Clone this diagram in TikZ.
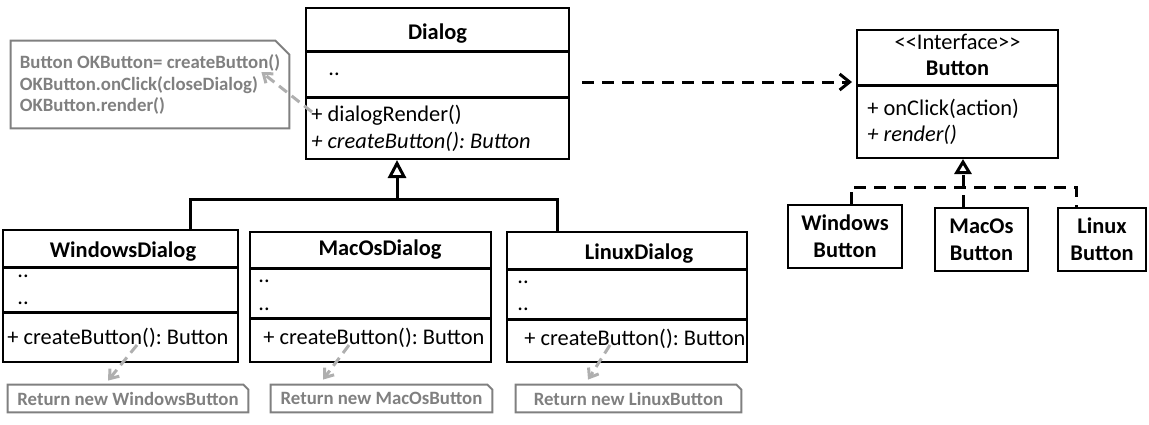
\documentclass[tikz,border=0pt]{standalone}
\usepackage{fontspec}
\setmainfont{Carlito}
\usetikzlibrary{arrows.meta, positioning}
\definecolor{notegray}{RGB}{128,128,128}
\definecolor{tipgray}{RGB}{175,175,175}
\frenchspacing

\begin{document}
\begin{tikzpicture}[x=0.5pt, y=-0.5pt,
    font=\fontsize{11.2pt}{13.5pt}\selectfont,
    umlbox/.style = {draw, line width=1pt, inner sep=0pt},
    divider/.style = {line width=1.5pt},
    txt/.style = {inner sep=0pt, anchor=base west},
    ttl/.style = {inner sep=0pt, anchor=base, font=\fontsize{11.2pt}{13.5pt}\selectfont\bfseries},
    notebox/.style = {draw=notegray, line width=1pt},
    notetxt/.style = {text=notegray, inner sep=0pt, font=\fontsize{9.4pt}{10.75pt}\selectfont\bfseries},
    gen/.style = {line width=1.5pt, -{Triangle[open, length=9pt, width=9pt]}},
    realize/.style = {line width=1.5pt, dash pattern=on 6pt off 4pt},
    dep/.style = {line width=1.5pt, dash pattern=on 6pt off 4pt, -{Straight Barb[length=5pt, width=8pt]}},
    hint/.style = {draw=tipgray, line width=1.5pt, dash pattern=on 5pt off 3pt, -{Straight Barb[length=4pt, width=6pt]}}]
    \useasboundingbox (0,0) rectangle (1149,424);

    % Dialog
    \node[umlbox, minimum width=131.5pt, minimum height=75.5pt] at (437.5,83.5) (dialog) {};
    \draw[divider] (dialog.west |- 0,51) -- (dialog.east |- 0,51);
    \draw[divider] (dialog.west |- 0,97) -- (dialog.east |- 0,97);
    \node[ttl] at (437.5,39) (dialogName) {Dialog};
    \node[txt] at (328,75) (dialogAttr) {..};
    \node[txt] at (311,121) (dialogRender) {+ dialogRender()};
    \node[txt] at (311,148) (dialogCreate) {\itshape + createButton(): Button};

    % note on dialogRender
    \node[notetxt, align=left, minimum width=139pt, minimum height=43.5pt] at (150,84.5) (okNote)
        {Button OKButton= createButton()\\OKButton.onClick(closeDialog)\\OKButton.render()};
    \draw[notebox] (okNote.south west) -- (okNote.north west) -- ([xshift=-7pt]okNote.north east)
        -- ([yshift=-7pt]okNote.north east) -- (okNote.south east) -- cycle;
    \draw[hint] ([xshift=3.5pt, yshift=-14.25pt]dialog.west) -- ([xshift=-14pt, yshift=6.25pt]okNote.east);

    % Button interface
    \node[umlbox, minimum width=100.5pt, minimum height=64pt] at (957.5,94) (button) {};
    \draw[divider] (button.west |- 0,85) -- (button.east |- 0,85);
    \node[inner sep=0pt, anchor=base] at (957.5,49) (buttonStereo) {<\kern0pt<Interface>\kern0pt>};
    \node[ttl] at (957.5,75) (buttonName) {Button};
    \node[txt] at (867,115) (buttonClick) {+ onClick(action)};
    \node[txt] at (867,141) (buttonRender) {\itshape + render()};

    \draw[dep] ([xshift=6pt, yshift=0.75pt]dialog.east) -- ([xshift=-2pt, yshift=6pt]button.west);

    % concrete buttons
    \node[umlbox, font=\fontsize{11.2pt}{13.5pt}\selectfont\bfseries, align=center,
        minimum width=57pt, minimum height=31.5pt] at (845,236.5) (winBtn) {Windows\\Button};
    \node[umlbox, font=\fontsize{11.2pt}{13.5pt}\selectfont\bfseries, align=center,
        minimum width=46.5pt, minimum height=31.5pt] at (981.5,239.5) (macBtn) {MacOs\\Button};
    \node[umlbox, font=\fontsize{11.2pt}{13.5pt}\selectfont\bfseries, align=center,
        minimum width=44pt, minimum height=31.5pt] at (1102,239.5) (linBtn) {Linux\\Button};

    \coordinate (btnFork) at (963,187);
    \draw[realize] ([xshift=3pt]winBtn.north) |- (btnFork) -| ([xshift=-13pt]linBtn.north);
    \draw[realize, -{Triangle[open, length=7.5pt, width=8.5pt]}] (macBtn.north -| btnFork) -- (btnFork |- button.south);

    % concrete dialogs
    \node[umlbox, minimum width=117.5pt, minimum height=66pt] at (120.5,296) (winBox) {};
    \draw[divider] (winBox.west |- 0,267) -- (winBox.east |- 0,267);
    \draw[divider] (winBox.west |- 0,312) -- (winBox.east |- 0,312);
    \node[ttl] at (123,257) (winName) {WindowsDialog};
    \node[txt] at (17,277) (winAttrA) {..};
    \node[txt] at (17,304) (winAttrB) {..};
    \node[txt] at (7,344) (winCreate) {+ createButton(): Button};

    \node[umlbox, minimum width=120.5pt, minimum height=65pt] at (370.5,297) (macBox) {};
    \draw[divider] (macBox.west |- 0,268) -- (macBox.east |- 0,268);
    \draw[divider] (macBox.west |- 0,318) -- (macBox.east |- 0,318);
    \node[ttl] at (380,255) (macName) {MacOsDialog};
    \node[txt] at (258,282) (macAttrA) {..};
    \node[txt] at (258,310) (macAttrB) {..};
    \node[txt] at (263,344) (macCreate) {+ createButton(): Button};

    \node[umlbox, minimum width=120pt, minimum height=65pt] at (627,297) (linBox) {};
    \draw[divider] (linBox.west |- 0,269) -- (linBox.east |- 0,269);
    \draw[divider] (linBox.west |- 0,319) -- (linBox.east |- 0,319);
    \node[ttl] at (639,259) (linName) {LinuxDialog};
    \node[txt] at (517,283) (linAttrA) {..};
    \node[txt] at (517,310) (linAttrB) {..};
    \node[txt] at (524,345) (linCreate) {+ createButton(): Button};

    \coordinate (dlgFork) at (397,199);
    \draw[line width=1.5pt] ([xshift=34.75pt]winBox.north) |- (dlgFork) -| ([xshift=-35pt]linBox.north);
    \draw[gen] (dlgFork) -- (dlgFork |- dialog.south);

    % return notes
    \node[notetxt, minimum width=120pt, minimum height=13.5pt] at (128,398.5) (winNote) {Return new WindowsButton};
    \node[notetxt, minimum width=110.5pt, minimum height=13.5pt] at (381.5,398.5) (macNote) {Return new MacOsButton};
    \node[notetxt, minimum width=112.5pt, minimum height=13.5pt] at (628.5,398.5) (linNote) {Return new LinuxButton};
    \foreach \n in {winNote, macNote, linNote}
        \draw[notebox] (\n.south west) -- (\n.north west) -- ([xshift=-2.5pt]\n.north east)
            -- ([yshift=-2.5pt]\n.north east) -- (\n.south east) -- cycle;

    \draw[hint] ([xshift=8.25pt, yshift=9pt]winBox.south) -- ([xshift=-10pt, yshift=2pt]winNote.north);
    \draw[hint] ([xshift=-10.75pt, yshift=9pt]macBox.south) -- ([xshift=-29.25pt, yshift=2.5pt]macNote.north);
    \draw[hint] ([xshift=-8.5pt, yshift=9pt]linBox.south) -- ([xshift=-20.25pt, yshift=2.5pt]linNote.north);
\end{tikzpicture}
\end{document}
